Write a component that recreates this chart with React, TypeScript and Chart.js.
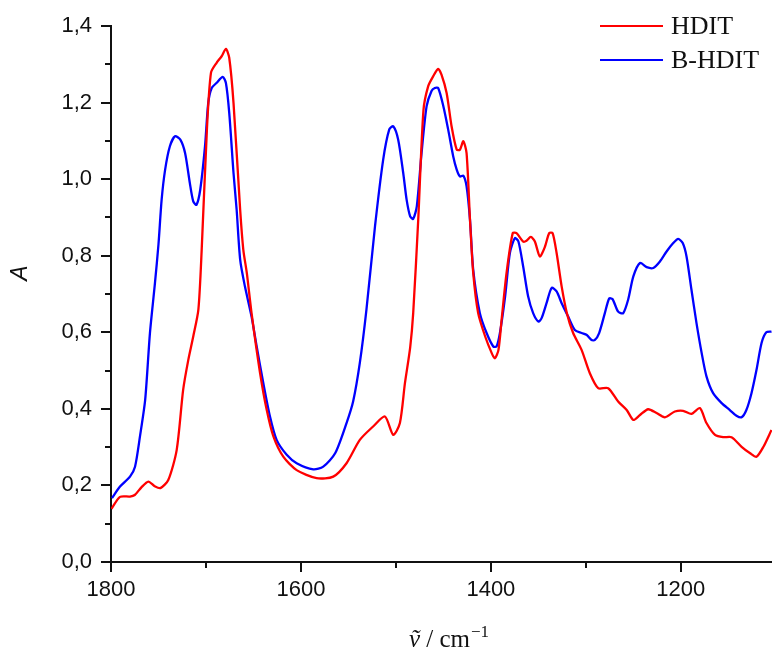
import React, { useEffect, useRef } from 'react';
import { Chart, registerables } from 'chart.js';

Chart.register(...registerables);

// HDIT spectrum (wavenumber / cm-1, absorbance)
const hditWavenumbers = [
  1799.5, 1790.5, 1780, 1775, 1768, 1760.7, 1754, 1748, 1739.7, 1730.8, 1724, 1718.6, 1713.4, 1708, 1704.5,
  1699, 1694.7, 1688.8, 1683.5, 1679, 1675.5, 1671, 1664, 1660.7, 1657, 1652, 1643, 1636, 1629, 1618.6,
  1604.5, 1583.5, 1566, 1552, 1538, 1524, 1511.6, 1502.8, 1495.8, 1490.5, 1485, 1481.8, 1476.5, 1471, 1466,
  1460.7, 1455.5, 1452, 1446.6, 1441.4, 1436, 1432.6, 1429, 1425.6, 1422, 1418.6, 1413.4, 1406, 1399, 1395.8,
  1392, 1388.7, 1383.5, 1377, 1373, 1366, 1362.5, 1358, 1353.7, 1348.4, 1343, 1338.6, 1335, 1330.8, 1325.5,
  1320, 1313.4, 1304.5, 1295.8, 1287, 1276.5, 1266, 1257, 1250, 1243, 1234.4, 1225.6, 1216.8, 1206.3, 1197.6,
  1188.8, 1180, 1173, 1164, 1155.5, 1146.6, 1136, 1127, 1120.3, 1113, 1104.5,
];
const hditAbsorbance = [
  0.139, 0.170, 0.171, 0.175, 0.195, 0.210, 0.198, 0.193, 0.214, 0.293, 0.45, 0.528, 0.589, 0.659, 0.816,
  1.13, 1.278, 1.304, 1.321, 1.34, 1.317, 1.199, 0.92, 0.816, 0.755, 0.65, 0.493, 0.397, 0.328, 0.275,
  0.24, 0.219, 0.223, 0.258, 0.319, 0.354, 0.38, 0.332, 0.363, 0.467, 0.56, 0.65, 0.894, 1.18, 1.243,
  1.269, 1.288, 1.273, 1.225, 1.138, 1.077, 1.077, 1.099, 1.068, 0.894, 0.755, 0.65, 0.589, 0.545, 0.532,
  0.554, 0.633, 0.755, 0.859, 0.859, 0.837, 0.839, 0.849, 0.837, 0.798, 0.824, 0.859, 0.859, 0.807, 0.72,
  0.65, 0.598, 0.554, 0.493, 0.454, 0.454, 0.419, 0.397, 0.371, 0.384, 0.399, 0.389, 0.378, 0.393, 0.395,
  0.387, 0.402, 0.363, 0.332, 0.326, 0.326, 0.301, 0.284, 0.275, 0.301, 0.345,
];

// B-HDIT spectrum
const bhditWavenumbers = [
  1799, 1790.5, 1780, 1774.7, 1769.5, 1764, 1759, 1753.7, 1750, 1746.7, 1743, 1738, 1732.6, 1727, 1722,
  1717, 1713.4, 1710, 1706, 1701, 1697.6, 1694, 1689, 1682.4, 1679, 1675.5, 1671, 1667.7, 1664, 1659,
  1652, 1646.6, 1639.6, 1632.6, 1625.6, 1615, 1604.5, 1587, 1576.5, 1564, 1552, 1545, 1538, 1531, 1522,
  1513.4, 1507, 1502.8, 1497.6, 1492.3, 1488.7, 1485, 1481.8, 1478, 1473, 1467.7, 1462.5, 1459, 1455.5, 1450,
  1445, 1439.7, 1436, 1432.6, 1429, 1425.6, 1422, 1418.6, 1411.6, 1404.5, 1397.5, 1394, 1390.5, 1385, 1380,
  1374.7, 1371, 1366, 1360.8, 1355.5, 1350, 1346.6, 1341.4, 1336, 1330.8, 1325.5, 1318.6, 1311.6, 1304.5, 1299,
  1294, 1290.5, 1286, 1280, 1275.5, 1272, 1266, 1260.7, 1255.5, 1250, 1243, 1236, 1229, 1222, 1215,
  1208, 1202.8, 1198, 1194, 1188.8, 1183.5, 1178, 1173, 1166, 1157, 1148.4, 1141.4, 1136, 1131, 1125.6,
  1120.3, 1115, 1110, 1104.5,
];
const bhditAbsorbance = [
  0.167, 0.197, 0.223, 0.249, 0.328, 0.424, 0.598, 0.729, 0.83, 0.946, 1.025, 1.086, 1.112, 1.103, 1.068,
  0.99, 0.942, 0.933, 0.973, 1.086, 1.199, 1.238, 1.251, 1.267, 1.251, 1.173, 1.016, 0.92, 0.79, 0.72,
  0.641, 0.563, 0.467, 0.38, 0.319, 0.28, 0.258, 0.242, 0.249, 0.284, 0.363, 0.42, 0.52, 0.66, 0.877,
  1.051, 1.13, 1.138, 1.103, 1.016, 0.946, 0.903, 0.896, 0.929, 1.068, 1.19, 1.23, 1.238, 1.238, 1.19,
  1.13, 1.06, 1.025, 1.007, 1.009, 0.981, 0.894, 0.763, 0.65, 0.598, 0.563, 0.563, 0.598, 0.694, 0.807,
  0.846, 0.837, 0.772, 0.694, 0.65, 0.628, 0.637, 0.676, 0.716, 0.707, 0.676, 0.641, 0.606, 0.598, 0.593,
  0.58, 0.58, 0.598, 0.65, 0.688, 0.687, 0.654, 0.65, 0.685, 0.746, 0.781, 0.77, 0.768, 0.785, 0.811,
  0.833, 0.844, 0.833, 0.798, 0.711, 0.624, 0.545, 0.485, 0.441, 0.415, 0.397, 0.382, 0.378, 0.397, 0.441,
  0.502, 0.572, 0.6, 0.602,
];

const seriesLabels = ['HDIT', 'B-HDIT'];
const seriesColors = ['#ff0000', '#0000ff'];
// tick positions (major ones labelled)
const xTickValues = [1800, 1700, 1600, 1500, 1400, 1300, 1200];
const xLabelledTicks = [1800, 1600, 1400, 1200];
const yTickValues = [0, 0.1, 0.2, 0.3, 0.4, 0.5, 0.6, 0.7, 0.8, 0.9, 1.0, 1.1, 1.2, 1.3, 1.4];
const yLabelledTicks = ['0,0', '', '0,2', '', '0,4', '', '0,6', '', '0,8', '', '1,0', '', '1,2', '', '1,4'];
const yTitle = 'A';
const xTitleParts = ['\u1E7D', ' / cm', '\u22121'];

const SANS = 'Arial, "Liberation Sans", sans-serif';
const SERIF = '"Times New Roman", "Liberation Serif", "DejaVu Serif", serif';

const decorPlugin = {
  id: 'decor',
  afterDraw(chart: any) {
    const { ctx, chartArea, scales } = chart;
    const xs = scales.x;
    const ys = scales.y;
    ctx.save();
    ctx.strokeStyle = '#111';
    ctx.lineWidth = 2;
    xs.ticks.forEach((t: any) => {
      const px = Math.round(xs.getPixelForValue(t.value));
      const major = xLabelledTicks.includes(Math.round(t.value));
      ctx.beginPath();
      ctx.moveTo(px, chartArea.bottom);
      ctx.lineTo(px, chartArea.bottom + (major ? 10 : 6));
      ctx.stroke();
    });
    ys.ticks.forEach((t: any) => {
      const py = Math.round(ys.getPixelForValue(t.value));
      const major = Math.round(t.value * 10) % 2 === 0;
      ctx.beginPath();
      ctx.moveTo(chartArea.left, py);
      ctx.lineTo(chartArea.left - (major ? 10 : 6), py);
      ctx.stroke();
    });

    // y title
    ctx.save();
    ctx.translate(21, 273);
    ctx.rotate(-Math.PI / 2);
    ctx.fillStyle = '#111';
    ctx.font = `italic 23px ${SANS}`;
    ctx.textAlign = 'center';
    ctx.textBaseline = 'middle';
    ctx.fillText(yTitle, 0, 0);
    ctx.restore();

    // x title
    const fMain = `25px ${SERIF}`;
    const fItal = `italic 25px ${SERIF}`;
    const fSup = `17px ${SERIF}`;
    ctx.textBaseline = 'alphabetic';
    ctx.textAlign = 'left';
    ctx.fillStyle = '#111';
    ctx.font = fItal;
    const w0 = ctx.measureText(xTitleParts[0]).width;
    ctx.font = fMain;
    const w1 = ctx.measureText(xTitleParts[1]).width;
    ctx.font = fSup;
    const w2 = ctx.measureText(xTitleParts[2]).width;
    const total = w0 + w1 + w2 + 1;
    let cx = 449 - total / 2;
    const base = 647;
    ctx.font = fItal;
    ctx.fillText(xTitleParts[0], cx, base);
    cx += w0;
    ctx.font = fMain;
    ctx.fillText(xTitleParts[1], cx, base);
    cx += w1 + 1;
    ctx.font = fSup;
    ctx.fillText(xTitleParts[2], cx, base - 10);

    // legend
    chart.data.datasets.forEach((ds: any, i: number) => {
      const y = 26 + i * 34;
      ctx.strokeStyle = ds.borderColor;
      ctx.lineWidth = 2;
      ctx.beginPath();
      ctx.moveTo(600, y);
      ctx.lineTo(663, y);
      ctx.stroke();
      ctx.fillStyle = '#111';
      ctx.font = `26px ${SERIF}`;
      ctx.textAlign = 'left';
      ctx.textBaseline = 'middle';
      ctx.fillText(ds.label, 671, y + 1);
    });
    ctx.restore();
  },
};

export default function App() {
  const canvasRef = useRef<HTMLCanvasElement | null>(null);

  useEffect(() => {
    const canvas = canvasRef.current;
    if (!canvas) return;
    const makePoints = (xs: number[], ys: number[]) => xs.map((x, i) => ({ x, y: ys[i] }));
    const chart = new Chart(canvas, {
      type: 'line',
      data: {
        datasets: [
          {
            label: seriesLabels[0],
            data: makePoints(hditWavenumbers, hditAbsorbance),
            borderColor: seriesColors[0],
            backgroundColor: seriesColors[0],
            borderWidth: 2.3,
            pointRadius: 0,
            tension: 0.25,
            fill: false,
          },
          {
            label: seriesLabels[1],
            data: makePoints(bhditWavenumbers, bhditAbsorbance),
            borderColor: seriesColors[1],
            backgroundColor: seriesColors[1],
            borderWidth: 2.3,
            pointRadius: 0,
            tension: 0.25,
            fill: false,
          },
        ],
      },
      options: {
        animation: false,
        responsive: true,
        maintainAspectRatio: false,
        layout: { padding: { top: 26, left: 0, right: 0, bottom: 0 } },
        plugins: {
          legend: { display: false },
          tooltip: { enabled: false },
        },
        scales: {
          x: {
            type: 'linear',
            min: 1104,
            max: 1800,
            reverse: true,
            grid: { display: false, drawTicks: false },
            border: { display: true, color: '#111', width: 2 },
            afterBuildTicks: (s: any) => {
              s.ticks = xTickValues.map((v) => ({ value: v }));
            },
            ticks: {
              autoSkip: false,
              maxRotation: 0,
              padding: 15,
              color: '#111',
              font: { family: SANS, size: 22 },
              callback: (v: any) => (xLabelledTicks.includes(Math.round(v)) ? String(Math.round(v)) : ''),
            },
            afterFit: (s: any) => {
              s.height = 93;
              s.paddingRight = 0;
              s.paddingLeft = 0;
            },
          },
          y: {
            type: 'linear',
            min: 0,
            max: 1.4,
            grid: { display: false, drawTicks: false },
            border: { display: true, color: '#111', width: 2 },
            afterBuildTicks: (s: any) => {
              s.ticks = yTickValues.map((v) => ({ value: v }));
            },
            ticks: {
              autoSkip: false,
              padding: 19,
              color: '#111',
              font: { family: SANS, size: 22 },
              callback: (v: any, i: number) => yLabelledTicks[i] ?? '',
            },
            afterFit: (s: any) => {
              s.width = 111;
              s.paddingTop = 0;
              s.paddingBottom = 0;
            },
          },
        },
      },
      plugins: [decorPlugin],
    } as any);
    return () => chart.destroy();
  }, []);

  return (
    <div style={{ position: 'absolute', left: 0, top: 0, width: 772, height: 655, background: '#fff' }}>
      <canvas ref={canvasRef} />
    </div>
  );
}
